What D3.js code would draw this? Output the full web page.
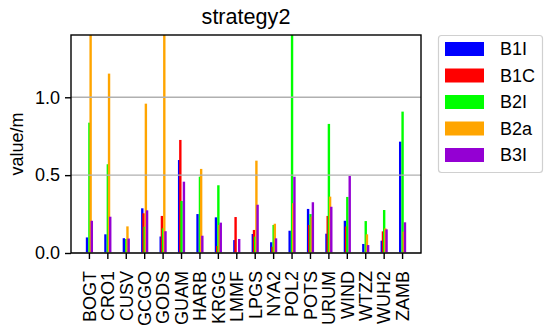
<!DOCTYPE html>
<html>
<head>
<meta charset="utf-8">
<script src="https://cdn.jsdelivr.net/npm/d3@7/dist/d3.min.js"></script>
<style>
  html, body { margin: 0; padding: 0; background: #fff; }
  svg { display: block; font-family: "Liberation Sans", Arial, sans-serif; }
</style>
</head>
<body>
<svg id="chart" width="550" height="329"></svg>
<script>
const categories = ["BOGT","CRO1","CUSV","GCGO","GODS","GUAM","HARB","KRGG","LMMF","LPGS","NYA2","POL2","POTS","URUM","WIND","WTZZ","WUH2","ZAMB"];
const seriesNames = ["B1I","B1C","B2I","B2a","B3I"];
const seriesColors = ["#0000ff","#ff0000","#00ff00","#ffa500","#9400d3"];
const B1I = [0.10,0.12,0.095,0.287,0.106,0.597,0.25,0.229,0.083,0.122,0.069,0.143,0.283,0.124,0.207,0.058,0.079,0.715];
const B1C = [0.0,0.0,0.0,0.255,0.238,0.726,0.0,0.045,0.231,0.148,0.04,0.0,0.18,0.238,0.17,0.0,0.139,0.0];
const B2I = [0.837,0.57,0.09,0.169,0.159,0.334,0.49,0.435,0.0,0.105,0.18,1.60,0.25,0.829,0.36,0.205,0.276,0.908];
const B2a = [1.70,1.152,0.171,0.959,1.75,0.0,0.54,0.18,0.0,0.593,0.188,0.32,0.233,0.362,0.0,0.12,0.158,0.137];
const B3I = [0.207,0.233,0.093,0.274,0.14,0.458,0.111,0.195,0.09,0.31,0.094,0.49,0.326,0.297,0.495,0.051,0.152,0.197];
const seriesValues = [B1I, B1C, B2I, B2a, B3I];
const yTicks = [0.0, 0.5, 1.0];
const titleText = "strategy2";
const yLabel = "value/m";

(function () {
const svg = d3.select("#chart");
const pL = 71, pR = 421, pT = 35, pB = 253;

const x = d3.scaleBand().domain(categories).range([pL, pR]).paddingInner(0).paddingOuter(0.5);
const y = d3.scaleLinear().domain([0, 1.4]).range([pB, pT]);
const step = x.step();
const barW = 0.13 * step;
const off = 0.065 * step;

svg.append("clipPath").attr("id", "clip")
  .append("rect").attr("x", pL).attr("y", pT).attr("width", pR - pL).attr("height", pB - pT);

const gBars = svg.append("g").attr("clip-path", "url(#clip)");
seriesNames.forEach((name, i) => {
  gBars.append("g").attr("fill", seriesColors[i])
    .selectAll("rect").data(categories.map((c, j) => ({c, v: seriesValues[i][j]})))
    .join("rect")
    .attr("x", d => x(d.c) + step / 2 + (i - 2) * off - barW / 2)
    .attr("width", barW)
    .attr("y", d => y(d.v))
    .attr("height", d => y(0) - y(d.v));
});

svg.append("g").selectAll("line").data(yTicks).join("line")
  .attr("x1", pL).attr("x2", pR)
  .attr("y1", d => y(d)).attr("y2", d => y(d))
  .attr("stroke", "#b0b0b0").attr("stroke-width", 1.4);

svg.append("rect").attr("x", pL).attr("y", pT).attr("width", pR - pL).attr("height", pB - pT)
  .attr("fill", "none").attr("stroke", "#000").attr("stroke-width", 1.4);

const yAxis = d3.axisLeft(y).tickValues(yTicks).tickFormat(d3.format(".1f")).tickSize(6).tickPadding(5);
const gy = svg.append("g").attr("transform", `translate(${pL},0)`).call(yAxis);
gy.select(".domain").remove();
gy.selectAll(".tick line").attr("stroke", "#000").attr("stroke-width", 1.4);
gy.selectAll(".tick text").attr("font-size", 18).attr("fill", "#000").attr("font-family", "Liberation Sans, Arial, sans-serif");

const xAxis = d3.axisBottom(x).tickSize(6).tickPadding(0);
const gx = svg.append("g").attr("transform", `translate(0,${pB})`).call(xAxis);
gx.select(".domain").remove();
gx.selectAll(".tick line").attr("stroke", "#000").attr("stroke-width", 1.4);
gx.selectAll(".tick text")
  .attr("font-size", 18).attr("fill", "#000").attr("font-family", "Liberation Sans, Arial, sans-serif")
  .attr("transform", "rotate(-90)")
  .attr("text-anchor", "end")
  .attr("dy", "0.35em")
  .attr("x", -18)
  .attr("y", 0);

svg.append("text").attr("x", (pL + pR) / 2).attr("y", 24)
  .attr("text-anchor", "middle").attr("font-size", 21.6).attr("fill", "#000").text(titleText);

svg.append("text").attr("transform", `translate(23,${(pT + pB) / 2}) rotate(-90)`)
  .attr("text-anchor", "middle").attr("font-size", 18).attr("fill", "#000").text(yLabel);

const lg = svg.append("g");
lg.append("rect").attr("x", 438.5).attr("y", 35.5).attr("width", 104).attr("height", 137).attr("rx", 3)
  .attr("fill", "#fff").attr("stroke", "#d0d0d0").attr("stroke-width", 1.2);
seriesNames.forEach((name, i) => {
  const cy = 49 + i * 26.5;
  lg.append("rect").attr("x", 445).attr("y", cy - 7).attr("width", 39).attr("height", 14).attr("fill", seriesColors[i]);
  lg.append("text").attr("x", 500).attr("y", cy).attr("dy", "0.35em").attr("font-size", 18).attr("fill", "#000").text(name);
});
})();
</script>
</body>
</html>
